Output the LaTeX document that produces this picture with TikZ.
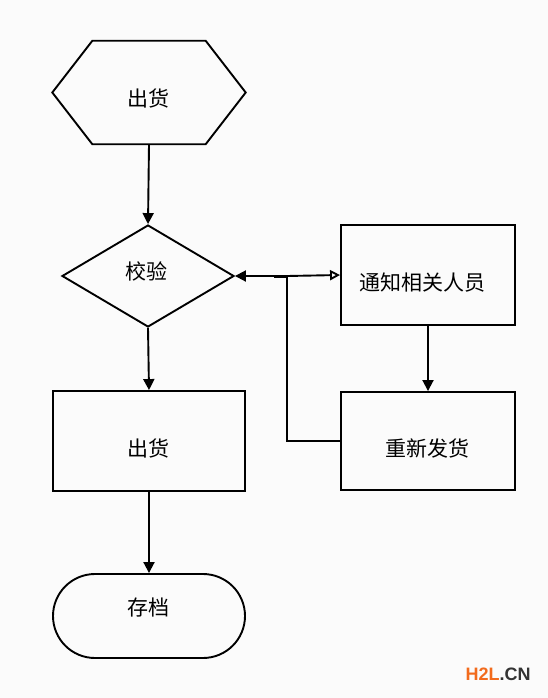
\documentclass[tikz,border=0pt]{standalone}
\usepackage{fontspec}
\newfontfamily\cjk{Noto Sans CJK SC}
\newfontfamily\wmfont{Liberation Sans}
\usetikzlibrary{shapes.geometric,shapes.misc,arrows.meta}
\definecolor{bg}{HTML}{FBFBFB}
\definecolor{wmorange}{HTML}{F26B1D}
\definecolor{wmgray}{HTML}{333333}
\begin{document}
\begin{tikzpicture}[x=1pt,y=-1pt,
  every node/.style={font=\cjk\fontsize{21}{21}\selectfont, inner sep=0pt},
  flowline/.style={line width=1.9pt, black},
  arr/.style={flowline, -{Triangle[length=11pt,width=11pt]}},
  procbox/.style={draw, line width=1.9pt, rectangle, minimum width=174pt, minimum height=100pt},
  decbox/.style={draw, line width=1.9pt, diamond, minimum width=172pt, minimum height=102pt},
  termbox/.style={draw, line width=1.9pt, rounded rectangle, minimum width=192pt, minimum height=84pt},
  hexbox/.style={minimum width=193pt, minimum height=103pt}
]
\fill[bg] (0,0) rectangle (548,698);
\useasboundingbox (0,0) rectangle (548,698);

% start hexagon
\node[hexbox] (start) at (149,92.5) {};
\draw[flowline, line join=miter] (start.west) -- ([xshift=40pt]start.north west) -- ([xshift=-40pt]start.north east)
  -- (start.east) -- ([xshift=-40pt]start.south east) -- ([xshift=40pt]start.south west) -- cycle;
\node (starttext) at (148,98) {出货};

\node[decbox] (check) at (148,276) {};
\node (checktext) at (146,271) {校验};

\node[procbox, minimum width=192pt, minimum height=100pt] (ship) at (149,441) {};
\node (shiptext) at (148,448) {出货};

\node[termbox] (archive) at (149,616) {};
\node (archivetext) at (148,608) {存档};

\node[procbox] (notify) at (428,275) {};
\node (notifytext) at (422,283) {通知相关人员};

\node[procbox, minimum height=98pt] (resend) at (428,441) {};
\node (resendtext) at (427,448) {重新发货};

\coordinate (junc) at (287,276);

\draw[arr] (start.south) -- (check.north);
\draw[arr] (check.south) -- (ship.north);
\draw[arr] (ship.south) -- (archive.north);
\draw[arr] (notify.south) -- (resend.north);
\draw[arr] (junc) -- (check.east);
\draw[flowline, -{Triangle[open,length=10pt,width=10pt]}] (junc) -- (notify.west);
\draw[flowline] (resend.west) -| (junc);
\draw[line width=3pt] (274,276) -- (junc);

\node[font=\wmfont\bfseries\fontsize{18}{18}\selectfont] (wm) at (498,674) {\textcolor{wmorange}{H2L}\textcolor{wmgray}{.CN}};
\end{tikzpicture}
\end{document}
